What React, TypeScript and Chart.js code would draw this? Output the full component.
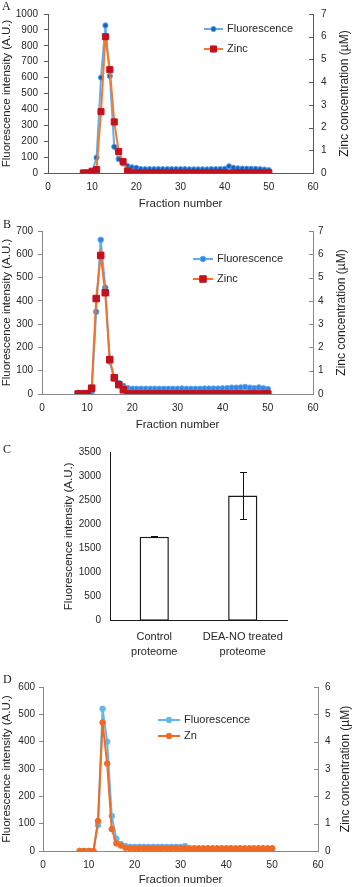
import React, { useEffect, useRef } from 'react';
import { Chart, registerables } from 'chart.js';
Chart.register(...registerables);

const FONT = "'Liberation Sans', Arial, sans-serif";
Chart.defaults.font.family = FONT;
Chart.defaults.color = '#262626';

// ---------- data ----------
const fractions = [
  8, 9, 10, 11, 12, 13, 14, 15, 16, 17,
  18, 19, 20, 21, 22, 23, 24, 25, 26, 27,
  28, 29, 30, 31, 32, 33, 34, 35, 36, 37,
  38, 39, 40, 41, 42, 43, 44, 45, 46, 47,
  48, 49, 50,
];

const fluorA = [
  5, 5, 8, 97, 600, 928, 610, 165, 88, 60,
  44, 36, 33, 25, 24, 24, 24, 24, 24, 24,
  24, 24, 24, 24, 23, 23, 23, 23, 23, 24,
  24, 25, 26, 42, 33, 29, 28, 27, 26, 26,
  24, 22, 18,
];
const zincA = [
  0, 0, 0.08, 0.15, 2.7, 6.0, 4.55, 2.25, 0.95, 0.5,
  0.08, 0, 0, 0, 0, 0, 0, 0, 0, 0,
  0, 0, 0, 0, 0, 0, 0, 0, 0, 0,
  0, 0, 0, 0, 0, 0, 0, 0, 0, 0,
  0, 0, 0,
];

const fluorB = [
  5, 5, 5, 10, 353, 662, 457, 139, 65, 47,
  35, 25, 22, 22, 22, 22, 22, 22, 22, 22,
  22, 22, 22, 23, 22, 22, 22, 22, 23, 23,
  23, 23, 24, 25, 27, 27, 28, 30, 27, 25,
  28, 24, 21,
];
const zincB = [
  0, 0, 0, 0.25, 4.1, 5.95, 4.35, 1.48, 0.7, 0.4,
  0.18, 0, 0, 0, 0, 0, 0, 0, 0, 0,
  0, 0, 0, 0, 0, 0, 0, 0, 0, 0,
  0, 0, 0, 0, 0, 0, 0, 0, 0, 0,
  0, 0, 0,
];

const categoriesC = [['Control', 'proteome'], ['DEA-NO treated', 'proteome']];
const meansC = [1740, 2600];
const errorsC = [12, 490];

const fluorD = [
  0, 0, 0, 0, 95, 520, 400, 128, 45, 25,
  18, 15, 15, 15, 15, 15, 15, 15, 15, 15,
  15, 15, 15, 18, 3, 3, 3, 3, 3, 3,
  3, 3, 3, 3, 3, 3, 3, 3, 3, 3,
  3, 3, 3,
];
const znD = [
  0, 0, 0, 0, 1.1, 4.7, 3.2, 0.8, 0.28, 0.2,
  0.12, 0.1, 0.1, 0.1, 0.1, 0.1, 0.1, 0.1, 0.1, 0.1,
  0.1, 0.1, 0.1, 0.1, 0.1, 0.1, 0.1, 0.1, 0.1, 0.1,
  0.1, 0.1, 0.1, 0.1, 0.1, 0.1, 0.1, 0.1, 0.1, 0.1,
  0.1, 0.1, 0.1,
];

const plainTick = (v: any) => String(v);

// ---------- plugins ----------
function innerTicks(id: string, len: number, color: string) {
  return {
    id: 'innerTicks',
    afterDraw(chart: any) {
      const s = chart.scales[id];
      const ctx = chart.ctx;
      ctx.save();
      ctx.strokeStyle = color;
      ctx.lineWidth = 1;
      s.ticks.forEach((_t: any, i: number) => {
        const y = Math.round(s.getPixelForTick(i)) + 0.5;
        ctx.beginPath();
        ctx.moveTo(s.left - len, y);
        ctx.lineTo(s.left, y);
        ctx.stroke();
      });
      ctx.restore();
    },
  };
}

// right-hand axis title, read from bottom to top like the left one
function rightTitle(text: string, size: number, fromRight: number) {
  return {
    id: 'rightTitle',
    afterDraw(chart: any) {
      const ctx = chart.ctx;
      const a = chart.chartArea;
      ctx.save();
      ctx.translate(chart.width - fromRight, (a.top + a.bottom) / 2);
      ctx.rotate(-Math.PI / 2);
      ctx.font = `${size}px ${FONT}`;
      ctx.fillStyle = '#262626';
      ctx.textAlign = 'center';
      ctx.textBaseline = 'middle';
      ctx.fillText(text, 0, 0);
      ctx.restore();
    },
  };
}

function customLegend(x: number, len: number, y0: number, gap: number, fontSize: number) {
  return {
    id: 'customLegend',
    afterDraw(chart: any) {
      const ctx = chart.ctx;
      ctx.save();
      chart.data.datasets.forEach((ds: any, i: number) => {
        const y = y0 + i * gap;
        ctx.strokeStyle = ds.borderColor;
        ctx.lineWidth = ds.borderWidth;
        ctx.beginPath();
        ctx.moveTo(x, y);
        ctx.lineTo(x + len, y);
        ctx.stroke();
        const cx = x + len / 2;
        const r = ds.pointRadius;
        ctx.fillStyle = ds.pointBackgroundColor;
        ctx.strokeStyle = ds.pointBorderColor;
        ctx.lineWidth = ds.pointBorderWidth;
        ctx.beginPath();
        if (ds.pointStyle === 'rect') {
          const h = r * Math.SQRT1_2;
          ctx.rect(cx - h, y - h, 2 * h, 2 * h);
        } else {
          ctx.arc(cx, y, r, 0, Math.PI * 2);
        }
        ctx.fill();
        ctx.stroke();
        ctx.fillStyle = '#262626';
        ctx.font = `${fontSize}px ${FONT}`;
        ctx.textBaseline = 'middle';
        ctx.textAlign = 'left';
        ctx.fillText(ds.label, x + len + 4, y);
      });
      ctx.restore();
    },
  };
}

const errorBars = {
  id: 'errorBars',
  afterDatasetsDraw(chart: any) {
    const ctx = chart.ctx;
    const ys = chart.scales.y;
    const meta = chart.getDatasetMeta(0);
    ctx.save();
    ctx.strokeStyle = '#111';
    ctx.lineWidth = 1;
    meta.data.forEach((el: any, i: number) => {
      const x = Math.round(el.x) + 0.5;
      const t = Math.round(ys.getPixelForValue(meansC[i] + errorsC[i])) + 0.5;
      const b = Math.round(ys.getPixelForValue(meansC[i] - errorsC[i])) + 0.5;
      ctx.beginPath();
      ctx.moveTo(x, t);
      ctx.lineTo(x, b);
      ctx.moveTo(x - 3.5, t);
      ctx.lineTo(x + 3.5, t);
      ctx.moveTo(x - 3.5, b);
      ctx.lineTo(x + 3.5, b);
      ctx.stroke();
    });
    ctx.restore();
  },
};

// ---------- builders ----------
type LineSpec = {
  fluor: number[];
  zinc: number[];
  zincLabel: string;
  leftMax: number;
  leftStep: number;
  rightMax: number;
  fluorLine: string;
  fluorFill: string;
  fluorBorder: string;
  fluorR: number;
  zincLine: string;
  zincFill: string;
  zincStyle: string;
  zincR: number;
  axisColor: string;
  padTop: number;
  leftW: number;
  rightW: number;
  xH: number;
  leftTickPad: number;
  rightTickPad: number;
  rightTitleX: number;
  xTitlePad: number;
  legend: [number, number, number, number];
};

function lineConfig(s: LineSpec): any {
  const titleFont = { size: 11.5 };
  const tickFont = { size: 10 };
  return {
    type: 'line',
    data: {
      datasets: [
        {
          label: 'Fluorescence',
          data: fractions.map((x, i) => ({ x, y: s.fluor[i] })),
          yAxisID: 'y',
          borderColor: s.fluorLine,
          borderWidth: 2,
          pointStyle: 'circle',
          pointRadius: s.fluorR,
          pointBackgroundColor: s.fluorFill,
          pointBorderColor: s.fluorBorder,
          pointBorderWidth: 1,
          tension: 0,
          order: 1,
        },
        {
          label: s.zincLabel,
          data: fractions.map((x, i) => ({ x, y: s.zinc[i] })),
          yAxisID: 'y1',
          borderColor: s.zincLine,
          borderWidth: 2,
          pointStyle: s.zincStyle,
          pointRadius: s.zincR,
          pointBackgroundColor: s.zincFill,
          pointBorderColor: s.zincFill,
          pointBorderWidth: 1,
          tension: 0,
          order: 0,
        },
      ],
    },
    options: {
      animation: false,
      responsive: false,
      layout: { padding: { top: s.padTop, left: 0, right: 0, bottom: 0 } },
      plugins: { legend: { display: false }, tooltip: { enabled: false } },
      scales: {
        x: {
          type: 'linear',
          min: 0,
          max: 60,
          ticks: { stepSize: 10, font: tickFont, padding: 8, callback: plainTick },
          grid: { display: false, drawTicks: false },
          border: { color: s.axisColor, width: 1 },
          title: { display: true, text: 'Fraction number', font: titleFont, padding: { top: 0, bottom: s.xTitlePad } },
          afterFit: (sc: any) => { sc.height = s.xH; },
        },
        y: {
          position: 'left',
          min: 0,
          max: s.leftMax,
          ticks: { stepSize: s.leftStep, font: tickFont, padding: s.leftTickPad, callback: plainTick },
          grid: { drawOnChartArea: false, drawTicks: true, tickLength: 4, color: s.axisColor },
          border: { color: s.axisColor, width: 1 },
          title: { display: true, text: 'Fluorescence intensity (A.U.)', font: titleFont, padding: { top: 0, bottom: 0 } },
          afterFit: (sc: any) => { sc.width = s.leftW; },
        },
        y1: {
          position: 'right',
          min: 0,
          max: s.rightMax,
          ticks: { stepSize: 1, font: tickFont, padding: s.rightTickPad, callback: plainTick },
          grid: { display: false, drawOnChartArea: false, drawTicks: false },
          border: { color: s.axisColor, width: 1 },
          title: { display: false },
          afterFit: (sc: any) => { sc.width = s.rightW; },
        },
      },
    },
    plugins: [
      innerTicks('y1', 4, s.axisColor),
      rightTitle('Zinc concentration (\u00b5M)', 12, s.rightTitleX),
      customLegend(s.legend[0], s.legend[1], s.legend[2], s.legend[3], 11),
    ],
  };
}

function barConfig(): any {
  return {
    type: 'bar',
    data: {
      labels: categoriesC,
      datasets: [
        {
          label: 'C',
          data: meansC,
          backgroundColor: '#ffffff',
          borderColor: '#1a1a1a',
          borderWidth: 1.5,
          borderSkipped: false,
          barPercentage: 0.33,
          categoryPercentage: 1,
        },
      ],
    },
    options: {
      animation: false,
      responsive: false,
      layout: { padding: { top: 20, right: 65, left: 0, bottom: 0 } },
      plugins: { legend: { display: false }, tooltip: { enabled: false } },
      scales: {
        x: {
          type: 'category',
          ticks: { font: { size: 11, lineHeight: 1.35 }, padding: 9, maxRotation: 0 },
          grid: { display: false, drawTicks: false },
          border: { color: '#1a1a1a', width: 1 },
          afterFit: (sc: any) => { sc.height = 39.3; },
        },
        y: {
          min: 0,
          max: 3500,
          ticks: { stepSize: 500, font: { size: 10 }, padding: 9, callback: plainTick },
          grid: { display: false, drawTicks: false },
          border: { color: '#1a1a1a', width: 1 },
          title: { display: true, text: 'Fluorescence intensity (A.U.)', font: { size: 11.5 }, padding: { top: 62, bottom: 0 } },
          afterFit: (sc: any) => { sc.width = 110; },
        },
      },
    },
    plugins: [errorBars],
  };
}

// ---------- components ----------
function Panel({ top, height, build }: { top: number; height: number; build: () => any }) {
  const ref = useRef<HTMLCanvasElement>(null);
  useEffect(() => {
    const c = new Chart(ref.current as HTMLCanvasElement, build());
    return () => c.destroy();
  }, []);
  return (
    <canvas
      ref={ref}
      width={352}
      height={height}
      style={{ position: 'absolute', left: 0, top, width: 352, height }}
    />
  );
}

const labelStyle = (left: number, top: number): React.CSSProperties => ({
  position: 'absolute',
  left,
  top,
  fontFamily: "'Liberation Serif', 'Times New Roman', serif",
  fontSize: 12,
  lineHeight: '12px',
  color: '#222',
});

export default function App() {
  const specA: LineSpec = {
    fluor: fluorA, zinc: zincA, zincLabel: 'Zinc',
    leftMax: 1000, leftStep: 100, rightMax: 7,
    fluorLine: '#62aef0', fluorFill: '#1d5fbd', fluorBorder: '#4f9fea', fluorR: 2.6,
    zincLine: '#f47a2c', zincFill: '#c4111b', zincStyle: 'rect', zincR: 4.3,
    axisColor: '#5a5a5a', padTop: 9, leftW: 48, rightW: 39, xH: 39,
    leftTickPad: 6, rightTickPad: 8, rightTitleX: 7, xTitlePad: 1.7,
    legend: [204, 19, 29, 20],
  };
  const specB: LineSpec = {
    fluor: fluorB, zinc: zincB, zincLabel: 'Zinc',
    leftMax: 700, leftStep: 100, rightMax: 7,
    fluorLine: '#62aef0', fluorFill: '#2f86e6', fluorBorder: '#5aa8f0', fluorR: 2.8,
    zincLine: '#f4712a', zincFill: '#c4111b', zincStyle: 'rect', zincR: 4.6,
    axisColor: '#888888', padTop: 19, leftW: 42, rightW: 39, xH: 38,
    leftTickPad: 5, rightTickPad: 5, rightTitleX: 10, xTitlePad: 0.7,
    legend: [193, 20, 47, 20],
  };
  const specD: LineSpec = {
    fluor: fluorD, zinc: znD, zincLabel: 'Zn',
    leftMax: 600, leftStep: 100, rightMax: 6,
    fluorLine: '#64b6ee', fluorFill: '#64b6ee', fluorBorder: '#64b6ee', fluorR: 2.8,
    zincLine: '#f26a22', zincFill: '#f26a22', zincStyle: 'circle', zincR: 2.8,
    axisColor: '#888888', padTop: 27, leftW: 43, rightW: 34, xH: 36,
    leftTickPad: 4, rightTickPad: 7, rightTitleX: 6, xTitlePad: 0,
    legend: [158, 22, 60, 16],
  };
  return (
    <div style={{ position: 'absolute', left: 0, top: 0, width: 352, height: 887, background: '#fff' }}>
      <Panel top={0} height={212} build={() => lineConfig(specA)} />
      <Panel top={212} height={220} build={() => lineConfig(specB)} />
      <Panel top={432} height={228} build={barConfig} />
      <Panel top={660} height={227} build={() => lineConfig(specD)} />
      <div style={labelStyle(2, 0)}>A</div>
      <div style={labelStyle(3, 218)}>B</div>
      <div style={labelStyle(3, 443)}>C</div>
      <div style={labelStyle(3, 673)}>D</div>
    </div>
  );
}
